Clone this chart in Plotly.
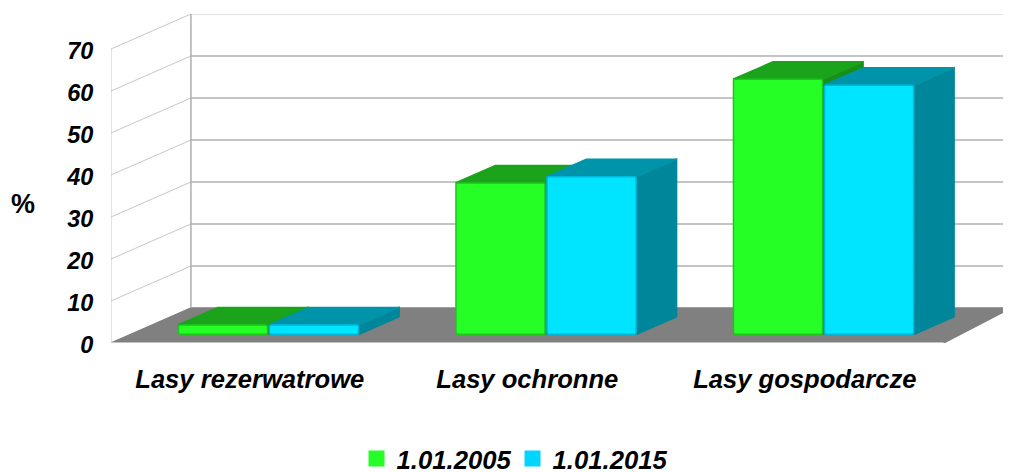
import plotly.graph_objects as go

categories = ["Lasy rezerwatrowe", "Lasy ochronne", "Lasy gospodarcze"]
positions = [0, 1, 2]
series_names = ["1.01.2005", "1.01.2015"]
values_2005 = [2.2, 36.0, 60.7]
values_2015 = [2.2, 37.5, 59.3]
y_ticks = [0, 10, 20, 30, 40, 50, 60, 70]

# 3D look
DX = 0.288      # full depth, x units
DY = 8.33       # full depth, y units
D0, D1 = 0.25, 0.75
BAR_W = 0.325
NUDGE = -0.006  # small sideways offset of all bars
X_MIN, X_MAX = -0.5, 2.5
X_RIGHT = X_MAX + DX - 0.045
Y_TOP = 70 + DY
FONT = "Liberation Sans"
txt = lambda s: dict(family=FONT, size=s, color="black", weight="bold", style="italic")

fig = go.Figure()


def poly(xs, ys, color, line=None):
    fig.add_trace(go.Scatter(x=xs, y=ys, mode="lines", fill="toself", fillcolor=color,
                             line=dict(color=line or color, width=1.5), showlegend=False, hoverinfo="skip"))


def seg(xs, ys, color, w=1):
    fig.add_trace(go.Scatter(x=xs, y=ys, mode="lines", line=dict(color=color, width=w),
                             showlegend=False, hoverinfo="skip"))


# floor
poly([X_MIN, X_MIN + DX, X_RIGHT, X_MAX, X_MIN], [0, DY, DY, 0, 0], "#808080")
seg([X_MIN, X_MAX], [0, 0], "#D9D9D9", 1.5)

# walls
for t in y_ticks[1:]:
    seg([X_MIN, X_MIN + DX], [t, t + DY], "#C6C6C6", 1)
    seg([X_MIN + DX, X_RIGHT], [t + DY, t + DY], "#DDDDDD" if t == 70 else "#B0B0B0", 1.5)
seg([X_MIN, X_MIN], [0, 70], "#C6C6C6", 1)
seg([X_MIN + DX, X_MIN + DX], [DY, Y_TOP], "#ADADAD", 1.5)

# top and side faces
styles = [("#26FF26", "#1BA31B", "#188F18", "#1FC41F", -1, values_2005),
          ("#00E5FF", "#0094AA", "#00869A", "#00B8D8", 1, values_2015)]

for front, top, side, edge, sign, vals in styles:
    for p, v in zip(positions, vals):
        left = p + (sign - 1) * BAR_W / 2 + (0.003 if sign > 0 else 0) + NUDGE
        right = left + BAR_W
        y0f, y1f = DY * D0, DY * D0 + v
        x_shift0, x_shift1 = DX * D0, DX * D1
        y_shift1 = DY * (D1 - D0)
        poly([right + x_shift0, right + x_shift1, right + x_shift1, right + x_shift0, right + x_shift0],
             [y0f, y0f + y_shift1, y1f + y_shift1, y1f, y0f], side)
        poly([left + x_shift0, left + x_shift1, right + x_shift1, right + x_shift0, left + x_shift0],
             [y1f, y1f + y_shift1, y1f + y_shift1, y1f, y1f], top)

# front faces, on an overlaid copy of the axes so they sit above the filled polygons
for (front, top, side, edge, sign, vals), name in zip(styles, series_names):
    fig.add_trace(go.Bar(
        x=[p + sign * BAR_W / 2 + DX * D0 + (0.003 if sign > 0 else 0) + NUDGE for p in positions],
        y=vals,
        base=[DY * D0] * len(vals),
        width=BAR_W - 0.004,
        xaxis="x2", yaxis="y2",
        marker=dict(color=front, line=dict(color=edge, width=1.5)),
        showlegend=False, hoverinfo="skip",
    ))
    fig.add_trace(go.Scatter(
        x=[None], y=[None], mode="markers", name=name,
        marker=dict(symbol="square", size=16, color="#00D5FF" if sign > 0 else front),
    ))

# the page has an 8 px body margin, so the figure starts 8 px in from the window edge
fig.update_layout(
    width=1003, height=464,
    margin=dict(l=102.5, r=0, t=6, b=129, autoexpand=False),
    paper_bgcolor="white", plot_bgcolor="white",
    barmode="overlay",
    barcornerradius=2,
    font=dict(family=FONT),
    xaxis=dict(range=[X_MIN, X_RIGHT], tickvals=positions, ticktext=categories, tickfont=txt(25.6),
               tickangle=0, showgrid=False, zeroline=False, showline=False, ticks="outside", ticklen=13,
               tickcolor="rgba(0,0,0,0)"),
    yaxis=dict(range=[0, Y_TOP], tickvals=y_ticks, tickfont=txt(23.5), showgrid=False, zeroline=False,
               showline=False, ticks="outside", ticklen=12, tickcolor="rgba(0,0,0,0)",
               ticklabelshift=2),
    xaxis2=dict(range=[X_MIN, X_RIGHT], overlaying="x", visible=False),
    yaxis2=dict(range=[0, Y_TOP], overlaying="y", visible=False),
    legend=dict(orientation="h", x=0.503, xanchor="center", xref="container", yref="paper",
                y=-0.352, yanchor="middle", font=txt(25.7), entrywidth=111, entrywidthmode="pixels",
                bgcolor="rgba(0,0,0,0)"),
    annotations=[dict(text="%", xref="paper", yref="paper", x=-0.098, y=0.421, xanchor="center",
                      yanchor="middle", showarrow=False,
                      font=dict(family=FONT, size=27, color="black", weight="bold"))],
)

fig.write_html("out.html", config={"displayModeBar": False})
